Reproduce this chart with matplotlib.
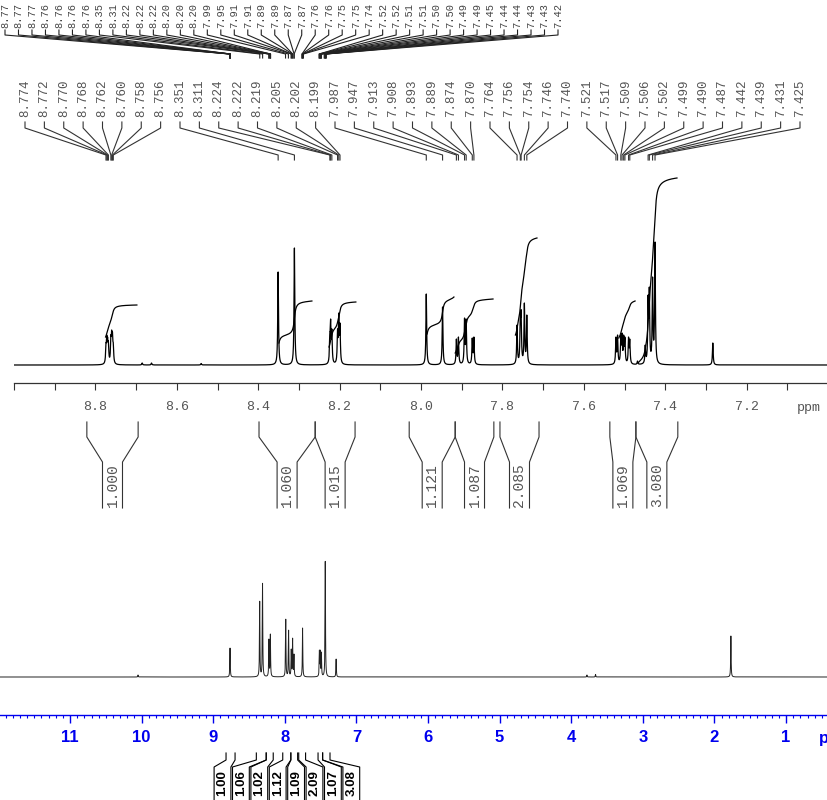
import numpy as np
import matplotlib
matplotlib.use("Agg")
import matplotlib.pyplot as plt
from matplotlib import font_manager

# ---------------- data ----------------
# expanded (zoom) spectrum: peak positions (ppm) and apparent heights
zoom_peak_ppm = [8.774, 8.772, 8.770, 8.768, 8.762, 8.760, 8.758, 8.756,
                 8.685, 8.662, 8.540,
                 8.351, 8.311,
                 8.224, 8.222, 8.219, 8.205, 8.202, 8.199,
                 7.987, 7.947, 7.913, 7.908, 7.893, 7.889, 7.874, 7.870,
                 7.764, 7.756, 7.754, 7.746, 7.740,
                 7.521, 7.517, 7.509, 7.506, 7.502, 7.499, 7.490, 7.487,
                 7.468, 7.449, 7.442, 7.439, 7.431, 7.425,
                 7.283]
zoom_peak_height = [22, 30, 28, 24, 30, 35, 33, 22,
                    2, 2, 1.5,
                    93, 117,
                    32, 46, 36, 36, 52, 42,
                    71, 58, 26, 28, 47, 46, 27, 28,
                    40, 52, 55, 62, 50,
                    28, 30, 30, 32, 30, 28, 28, 26,
                    4, 20, 70, 78, 88, 123,
                    22]

# full spectrum: peak positions (ppm) and apparent heights
full_peak_ppm = [10.05, 8.765, 8.351, 8.311, 8.222, 8.202, 7.987, 7.947,
                 7.910, 7.891, 7.872, 7.752, 7.517, 7.505, 7.489, 7.435,
                 7.283, 3.78, 3.66, 1.77]
full_peak_height = [2, 29, 76, 94, 38, 43, 58, 47,
                    28, 39, 23, 49, 27, 27, 25, 116,
                    18, 2, 2.5, 41]

# peak labels of the expanded region (3 decimals)
zoom_labels = ["8.774", "8.772", "8.770", "8.768", "8.762", "8.760", "8.758", "8.756",
               "8.351", "8.311", "8.224", "8.222", "8.219", "8.205", "8.202", "8.199",
               "7.987", "7.947", "7.913", "7.908", "7.893", "7.889", "7.874", "7.870",
               "7.764", "7.756", "7.754", "7.746", "7.740",
               "7.521", "7.517", "7.509", "7.506", "7.502", "7.499", "7.490", "7.487",
               "7.442", "7.439", "7.431", "7.425"]

# peak labels of the full spectrum (2 decimals)
full_labels = ["8.77", "8.77", "8.77", "8.76", "8.76", "8.76", "8.76",
               "8.35", "8.31", "8.22", "8.22", "8.22", "8.20", "8.20", "8.20",
               "7.99", "7.95", "7.91", "7.91", "7.89", "7.89", "7.87", "7.87",
               "7.76", "7.76", "7.75", "7.75", "7.74",
               "7.52", "7.52", "7.51", "7.51", "7.50", "7.50", "7.49", "7.49",
               "7.45", "7.44", "7.44", "7.43", "7.43", "7.42"]

# integration regions
int_left = [8.821, 8.398, 8.260, 8.029, 7.916, 7.806, 7.536, 7.472]
int_right = [8.695, 8.260, 8.162, 7.916, 7.821, 7.710, 7.472, 7.369]
int_values_zoom = ["1.000", "1.060", "1.015", "1.121", "1.087", "2.085", "1.069", "3.080"]
int_values_full = ["1.00", "1.06", "1.02", "1.12", "1.09", "2.09", "1.07", "3.08"]

# integral curves in the expanded spectrum (start ppm, end ppm, start level, end level)
curve_start = [8.775, 8.349, 8.226, 7.985, 7.916, 7.768, 7.514, 7.467]
curve_end = [8.698, 8.268, 8.160, 7.919, 7.823, 7.715, 7.474, 7.371]
curve_y0 = [28, 22, 18, 31, 12, 30, 27, 2]
curve_y1 = [60, 64, 63, 68, 66, 127, 64, 187]

zoom_ticks = [8.8, 8.6, 8.4, 8.2, 8.0, 7.8, 7.6, 7.4, 7.2]
full_ticks = [11, 10, 9, 8, 7, 6, 5, 4, 3, 2, 1]

# ---------------- helpers ----------------
def lorentz_curve(x, pos, target, hwhm):
    pos = np.asarray(pos, float)
    target = np.asarray(target, float)
    A = 1.0 / (1.0 + ((pos[:, None] - pos[None, :]) / hwhm) ** 2)
    amp = np.linalg.solve(A, target)
    amp = np.clip(amp, 0, None)
    y = np.zeros_like(x)
    for p, a in zip(pos, amp):
        y += a / (1.0 + ((x - p) / hwhm) ** 2)
    return y

def broad_curve(x, pos, height, hwhm):
    y = np.zeros_like(x)
    for p, a in zip(pos, height):
        y += a / (1.0 + ((x - p) / hwhm) ** 2)
    return y

W, H = 828, 800
names = {f.name for f in font_manager.fontManager.ttflist}
mono = ["Liberation Mono", "DejaVu Sans Mono"]
narrow = "Liberation Sans Narrow" if "Liberation Sans Narrow" in names else "Liberation Sans"
BLUE = "#0000EE"
GRAY = "#333333"
TGRAY = "#555555"

fig = plt.figure(figsize=(W / 100, H / 100), dpi=100)

# layout of expanded panel: 9.0 ppm at x=14 px, 407 px/ppm, axis line at y=383 px
def top_ppm(px):
    return 9.0 - (px - 14) / 407.0

def top_y(py):
    return 365 - py

ax1 = fig.add_axes([14 / W, 1 - 383 / H, (W - 14) / W, 383 / H])
ax1.set_facecolor("none")
ax1.set_xlim(9.0, 7.0)
ax1.set_ylim(-18, 365)

x1 = np.arange(7.0, 9.0, 0.0001)
y1 = lorentz_curve(x1, zoom_peak_ppm, zoom_peak_height, 0.0011)
ax1.plot(x1, y1, color="black", lw=0.9)

# integral curves (integrated over a slightly broadened line shape)
y1b = broad_curve(x1, zoom_peak_ppm, zoom_peak_height, 0.003)
for a, b, v0, v1 in zip(curve_start, curve_end, curve_y0, curve_y1):
    m = (x1 <= a) & (x1 >= b)
    xs = x1[m][::-1]
    ys = y1b[m][::-1]
    c = np.cumsum(ys)
    c = (c - c[0]) / (c[-1] - c[0])
    ax1.plot(xs, v0 + (v1 - v0) * c, color="black", lw=0.9)

# axis
for s in ["top", "left", "right"]:
    ax1.spines[s].set_visible(False)
ax1.spines["bottom"].set_color(GRAY)
ax1.spines["bottom"].set_linewidth(0.9)
ax1.set_yticks([])
ax1.set_xticks(zoom_ticks)
ax1.set_xticklabels([f"{t:.1f}" for t in zoom_ticks])
ax1.set_xticks(np.round(np.arange(7.1, 9.01, 0.1), 1), minor=True)
ax1.tick_params(axis="x", which="both", direction="out", length=5, width=0.8,
                color=GRAY, labelsize=9.5, labelcolor=TGRAY, pad=8)
for lbl in ax1.get_xticklabels():
    lbl.set_family(mono)
ax1.text(top_ppm(797), top_y(408), "ppm", ha="left", va="center", fontsize=9.5,
         color=TGRAY, family=mono, clip_on=False)

# peak labels for expanded spectrum
lab_x = top_ppm(np.linspace(25, 800, len(zoom_labels)))
for lx, t in zip(lab_x, zoom_labels):
    px = float(t)
    ax1.text(lx, top_y(117), t, rotation=90, ha="center", va="bottom", fontsize=9,
             color=TGRAY, family=mono, clip_on=False)
    ax1.plot([lx, lx, px, px], [top_y(122), top_y(128), top_y(155), top_y(160)],
             color=GRAY, lw=0.8, clip_on=False)

# integral brackets for expanded spectrum
hw = 10 / 407.0
for L, R, v in zip(int_left, int_right, int_values_zoom):
    c = (L + R) / 2
    ax1.plot([L, L, c + hw, c + hw], [top_y(422), top_y(437), top_y(462), top_y(508)],
             color=GRAY, lw=0.8, clip_on=False)
    ax1.plot([R, R, c - hw, c - hw], [top_y(422), top_y(437), top_y(462), top_y(508)],
             color=GRAY, lw=0.8, clip_on=False)
    ax1.text(c, top_y(507), v, rotation=90, ha="center", va="bottom", fontsize=10.5,
             color=TGRAY, family=mono, clip_on=False)

# layout of full panel: 71.6 px/ppm, 9 ppm at x=213 px, axis line at y=715 px
def full_ppm(px):
    return 11.978 - np.asarray(px, float) / 71.6

def full_y(py):
    return 677 - py

ax2 = fig.add_axes([0, 1 - 715 / H, 1, 715 / H])
ax2.set_facecolor("none")
ax2.set_xlim(11.978, full_ppm(W))
ax2.set_ylim(-38, 677)

x2 = np.arange(0.3, 12.0, 0.0004)
y2 = lorentz_curve(x2, full_peak_ppm, full_peak_height, 0.0035)
ax2.plot(x2, y2, color="#222222", lw=0.7)

for s in ["top", "left", "right"]:
    ax2.spines[s].set_visible(False)
ax2.spines["bottom"].set_color(BLUE)
ax2.spines["bottom"].set_linewidth(1.0)
ax2.set_yticks([])
ax2.set_xticks(full_ticks)
ax2.set_xticklabels([str(t) for t in full_ticks])
ax2.set_xticks(np.round(np.arange(0.5, 12.0, 0.1), 1), minor=True)
ax2.tick_params(axis="x", which="major", direction="out", length=5.5, width=1.0,
                color=BLUE, labelsize=12, labelcolor=BLUE, pad=5)
ax2.tick_params(axis="x", which="minor", direction="out", length=2, width=0.8, color=BLUE)
for lbl in ax2.get_xticklabels():
    lbl.set_fontweight("bold")
    lbl.set_family(narrow)
ax2.text(full_ppm(819), full_y(738), "ppm", ha="left", va="center", fontsize=12,
         fontweight="bold", color=BLUE, family=narrow, clip_on=False)

# peak labels for full spectrum
lab2_x = full_ppm(np.linspace(5, 558, len(full_labels)))
for lx, t in zip(lab2_x, full_labels):
    px = float(t)
    ax2.text(lx, full_y(28), t, rotation=90, ha="center", va="bottom", fontsize=7.5,
             color="#444444", family=mono, clip_on=False)
    ax2.plot([lx, lx, px, px], [full_y(30), full_y(35), full_y(54), full_y(58)],
             color="#222222", lw=0.8, clip_on=False)

# integral brackets for full spectrum
pitch = 18.4
for i, (L, R, v) in enumerate(zip(int_left, int_right, int_values_full)):
    cl = full_ppm(213.3 + pitch * i + 0.8)
    cr = full_ppm(213.3 + pitch * (i + 1) - 0.8)
    ax2.plot([L, L, cl, cl], [full_y(753), full_y(760), full_y(767), full_y(810)],
             color="black", lw=0.8, clip_on=False)
    ax2.plot([R, R, cr, cr], [full_y(753), full_y(760), full_y(767), full_y(810)],
             color="black", lw=0.8, clip_on=False)
    ax2.text((cl + cr) / 2, full_y(783), v, rotation=90, ha="center", va="center",
             fontsize=9.5, fontweight="bold", color="black", family="Liberation Sans",
             clip_on=False)

fig.savefig("out.png", dpi=100)
